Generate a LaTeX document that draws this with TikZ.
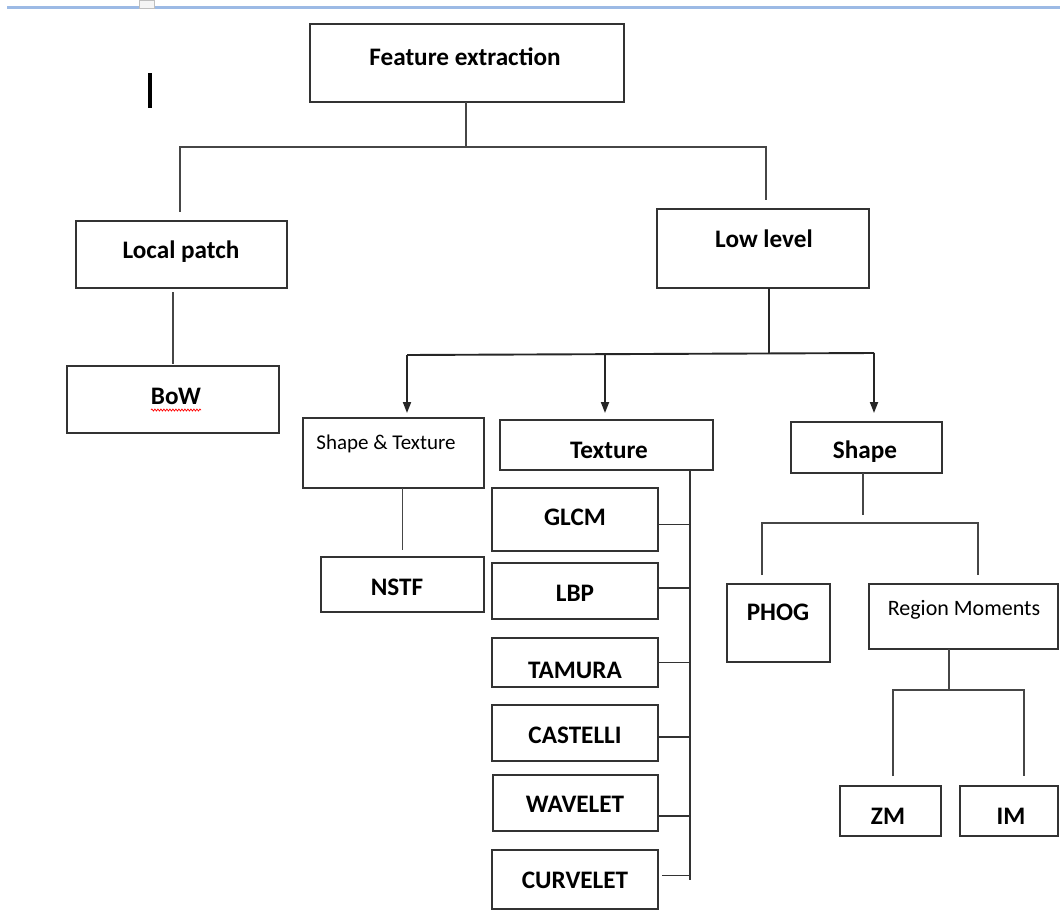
\documentclass[tikz,border=0pt]{standalone}
\usepackage{fontspec}
\setmainfont{Carlito}
\usetikzlibrary{arrows.meta,decorations.pathmorphing}
\definecolor{topblue}{RGB}{156,186,229}
\definecolor{linegray}{RGB}{70,70,70}
\newcommand\mkbox[5]{\node[box,anchor=north west,minimum width={#4-#2},minimum height={#5-#3}] (#1) at (#2,#3) {};}
\begin{document}
\begin{tikzpicture}[x=1pt,y=-1pt,
  box/.style={draw=black!80,line width=1.6pt,inner sep=0pt,outer sep=0pt},
  big/.style={font=\fontsize{25.2}{27}\selectfont\bfseries,anchor=base,inner sep=0pt},
  small/.style={font=\fontsize{21}{23}\selectfont,anchor=base,inner sep=0pt},
  conn/.style={draw=linegray,line width=1.9pt},
  arr/.style={conn,draw=black!85,-{Triangle[length=11pt,width=8pt]}}]
\useasboundingbox[fill=white] (0,0) rectangle (1060,916);
% window chrome
\draw[topblue,line width=3pt] (7,7) -- (1060,7);
\node[draw=black!25,fill=black!4,line width=0.8pt,minimum width=15pt,minimum height=8pt,inner sep=0pt] (tab) at (147,4) {};
\draw[black,line width=4pt] (150,73) coordinate (cur1) -- (150,108) coordinate (cur2);
% boxes
\mkbox{fe}{310}{24}{624}{102}
\mkbox{lp}{76}{221}{287}{288}
\mkbox{ll}{657}{209}{869}{288}
\mkbox{bow}{67}{366}{279}{433}
\mkbox{st}{303}{418}{484}{488}
\mkbox{tex}{500}{420}{713}{470}
\mkbox{sh}{791}{422}{942}{473}
\mkbox{nstf}{321}{557}{484}{612}
\mkbox{glcm}{492}{488}{658}{551}
\mkbox{lbp}{492}{563}{658}{619}
\mkbox{tam}{492}{638}{658}{687}
\mkbox{cas}{492}{705}{658}{761}
\mkbox{wav}{493}{775}{658}{831}
\mkbox{cur}{492}{850}{658}{909}
\mkbox{phog}{727}{584}{830}{662}
\mkbox{rm}{869}{584}{1058}{649}
\mkbox{zm}{840}{786}{941}{836}
\mkbox{im}{960}{786}{1058}{836}
% labels
\node[big] (fe-t) at (465,65) {Feature extraction};
\node[big] (lp-t) at (181,258) {Local patch};
\node[big] (ll-t) at (764,247) {Low level};
\node[big] (bow-t) at (176,404) {BoW};
\draw[red,line width=0.7pt,decorate,decoration={snake,amplitude=1pt,segment length=3pt}] (151,410) coordinate (sq1) -- (201,410) coordinate (sq2);
\node[small] (st-t) at (386,449) {Shape \& Texture};
\node[big] (tex-t) at (609,458) {Texture};
\node[big] (sh-t) at (865,458) {Shape};
\node[big] (nstf-t) at (397,595) {NSTF};
\node[big] (glcm-t) at (575,525) {GLCM};
\node[big] (lbp-t) at (575,601) {LBP};
\node[big] (tam-t) at (575,678) {TAMURA};
\node[big] (cas-t) at (575,743) {CASTELLI};
\node[big] (wav-t) at (575,812) {WAVELET};
\node[big] (cur-t) at (575,888) {CURVELET};
\node[big] (phog-t) at (778,620) {PHOG};
\node[small,font=\fontsize{22}{24}\selectfont] (rm-t) at (964,615) {Region Moments};
\node[big] (zm-t) at (888,824) {ZM};
\node[big] (im-t) at (1011,824) {IM};
% connectors: top level
\coordinate (j1) at (466,147);
\draw[conn] (fe.south -| j1) -- (j1);
\draw[conn,shorten >=9pt] (j1) -| ([xshift=-1.5pt]lp.north);
\draw[conn,shorten >=9pt] (j1) -| ([xshift=3pt]ll.north);
\draw[conn,shorten <=4pt,shorten >=2pt] (bow.north |- lp.south) -- (bow.north);
% low level to children
\coordinate (j2) at (769,354);
\coordinate (a1) at (407,355);
\coordinate (a2) at (605,355);
\coordinate (a3) at (874,353);
\draw[conn,draw=black!85] (ll.south -| j2) -- (j2);
\draw[conn,draw=black!85] (a1) -- (a3);
\draw[arr,shorten >=5pt] (a1) -- (a1 |- st.north);
\draw[arr,shorten >=7pt] (a2) -- (a2 |- tex.north);
\draw[arr,shorten >=9pt] (a3) -- (a3 |- sh.north);
% shape & texture
\draw[conn,shorten >=7pt] (nstf.north |- st.south) -- (nstf.north);
% texture trunk
\coordinate (tb) at (690,880);
\draw[conn,draw=black!80] (tb |- tex.south) -- (tb);
\draw[conn,draw=black!80] ([yshift=-5pt]glcm.east) -- ([yshift=-5pt]glcm.east -| tb);
\draw[conn,draw=black!80] ([yshift=3pt]lbp.east) -- ([yshift=3pt]lbp.east -| tb);
\draw[conn,draw=black!80] (tam.east) -- (tam.east -| tb);
\draw[conn,draw=black!80] ([yshift=-4pt]cas.east) -- ([yshift=-4pt]cas.east -| tb);
\draw[conn,draw=black!80] ([yshift=-13pt]wav.east) -- ([yshift=-13pt]wav.east -| tb);
\draw[conn,draw=black!80] ([xshift=4pt,yshift=4pt]cur.east) -- ([yshift=4pt]cur.east -| tb);
% shape subtree
\coordinate (s1) at (863,515);
\draw[conn] (s1 |- sh.south) -- (s1);
\coordinate (s2) at (762,523);
\coordinate (s3) at (978,523);
\draw[conn,shorten <=9pt,shorten >=9pt] (s2 |- phog.north) -- (s2) -- (s3) -- (s3 |- rm.north);
% region moments subtree
\coordinate (r1) at (949,690);
\draw[conn] (r1 |- rm.south) -- (r1);
\coordinate (r2) at (893,690);
\coordinate (r3) at (1024,690);
\draw[conn,shorten <=10pt,shorten >=10pt] (r2 |- zm.north) -- (r2) -- (r3) -- (r3 |- im.north);
\end{tikzpicture}
\end{document}
